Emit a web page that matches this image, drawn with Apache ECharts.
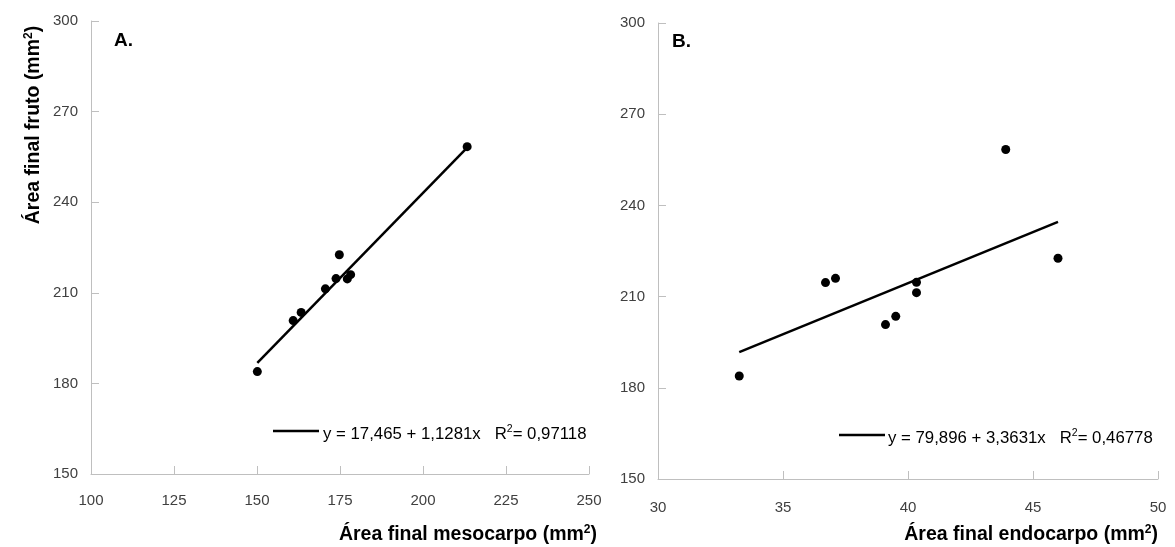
<!DOCTYPE html>
<html>
<head>
<meta charset="utf-8">
<script src="https://cdn.jsdelivr.net/npm/echarts@6/dist/echarts.min.js"></script>
<style>
  html, body { margin: 0; padding: 0; background: #fff; }
  #chart { width: 1175px; height: 547px; }
</style>
</head>
<body>
<div id="chart"></div>
<script>
// ---- Data ----
const frutoArea      = [183.9, 200.8, 203.5, 211.3, 214.7, 222.6, 214.6, 216.0, 258.4];
const mesocarpoArea  = [150.1, 160.9, 163.3, 170.6, 173.8, 174.8, 177.2, 178.2, 213.3];
const endocarpoArea  = [33.25, 39.10, 39.51, 40.34, 40.34, 46.0, 36.70, 37.10, 43.91];

// regression coefficients printed on the chart
const regA = { intercept: 17.465, slope: 1.1281, r2: '0,97118', text: 'y = 17,465 + 1,1281x   R' };
const regB = { intercept: 79.896, slope: 3.3631, r2: '0,46778', text: 'y = 79,896 + 3,3631x   R' };

// axis tick settings
const xTicksA = { min: 100, max: 250, interval: 25 };
const xTicksB = { min: 30, max: 50, interval: 5 };
const yTicks  = { min: 150, max: 300, interval: 30 };

const titles = {
  y: 'Área final fruto (mm',
  xA: 'Área final mesocarpo (mm',
  xB: 'Área final endocarpo (mm',
  panelA: 'A.',
  panelB: 'B.'
};

// ---- build ----
function pairs(xs, ys) { return xs.map((x, i) => [x, ys[i]]); }
function trend(xs, reg) {
  const lo = Math.min(...xs), hi = Math.max(...xs);
  return [[lo, reg.intercept + reg.slope * lo], [hi, reg.intercept + reg.slope * hi]];
}

const FONT = '"Liberation Sans", Arial, sans-serif';
const axisGray = '#bfbfbf';
const labelColor = '#404040';

function xAxis(idx, t, margin) {
  return {
    type: 'value', gridIndex: idx, min: t.min, max: t.max, interval: t.interval,
    axisLine: { show: true, lineStyle: { color: axisGray, width: 1 } },
    axisTick: { show: true, inside: true, length: 8, lineStyle: { color: axisGray } },
    axisLabel: { color: labelColor, fontFamily: FONT, fontSize: 15, margin: margin, showMinLabel: true, showMaxLabel: true },
    splitLine: { show: false }
  };
}
function yAxis(idx, t) {
  return {
    type: 'value', gridIndex: idx, min: t.min, max: t.max, interval: t.interval,
    axisLine: { show: true, lineStyle: { color: axisGray, width: 1 } },
    axisTick: { show: true, inside: true, length: 8, lineStyle: { color: axisGray } },
    axisLabel: { color: labelColor, fontFamily: FONT, fontSize: 15, margin: 13 },
    splitLine: { show: false }
  };
}

const TS = 19.5; // title font size
const supRich = {
  n: { fontFamily: FONT, fontSize: 16.8, color: '#000' },
  b: { fontFamily: FONT, fontSize: TS, fontWeight: 'bold', color: '#000' },
  s: { fontFamily: FONT, fontSize: 10.5, color: '#000', padding: [0, 0, 9, 0] },
  sb: { fontFamily: FONT, fontSize: 12, fontWeight: 'bold', color: '#000', padding: [0, 0, 10, 0] }
};

const option = {
  animation: false,
  backgroundColor: '#fff',
  grid: [
    { left: 91, right: 586, top: 21, bottom: 73 },
    { left: 658, right: 17, top: 23, bottom: 68 }
  ],
  xAxis: [xAxis(0, xTicksA, 19), xAxis(1, xTicksB, 21)],
  yAxis: [yAxis(0, yTicks), yAxis(1, yTicks)],
  series: [
    { type: 'line', xAxisIndex: 0, yAxisIndex: 0, data: trend(mesocarpoArea, regA),
      showSymbol: false, lineStyle: { color: '#000', width: 2.5 }, z: 2 },
    { type: 'scatter', xAxisIndex: 0, yAxisIndex: 0, data: pairs(mesocarpoArea, frutoArea),
      symbolSize: 9, itemStyle: { color: '#000', opacity: 1 }, z: 3 },
    { type: 'line', xAxisIndex: 1, yAxisIndex: 1, data: trend(endocarpoArea, regB),
      showSymbol: false, lineStyle: { color: '#000', width: 2.5 }, z: 2 },
    { type: 'scatter', xAxisIndex: 1, yAxisIndex: 1, data: pairs(endocarpoArea, frutoArea),
      symbolSize: 9, itemStyle: { color: '#000', opacity: 1 }, z: 3 }
  ],
  graphic: [
    { type: 'text', left: 114, top: 31, style: { text: titles.panelA, font: 'bold 19px ' + FONT, fill: '#000' } },
    { type: 'text', left: 672, top: 32, style: { text: titles.panelB, font: 'bold 19px ' + FONT, fill: '#000' } },
    // y-axis title (rotated)
    { type: 'text', x: 34, y: 125, rotation: Math.PI / 2,
      style: { text: '{b|' + titles.y + '}{sb|2}{b|)}', rich: supRich, align: 'center', verticalAlign: 'middle' } },
    // x-axis titles (right aligned)
    { type: 'text', x: 597, y: 535,
      style: { text: '{b|' + titles.xA + '}{sb|2}{b|)}', rich: supRich, align: 'right', verticalAlign: 'middle' } },
    { type: 'text', x: 1158, y: 535,
      style: { text: '{b|' + titles.xB + '}{sb|2}{b|)}', rich: supRich, align: 'right', verticalAlign: 'middle' } },
    // legend A
    { type: 'line', shape: { x1: 273, y1: 431, x2: 319, y2: 431 }, style: { stroke: '#000', lineWidth: 2.5 } },
    { type: 'text', x: 323, y: 434,
      style: { text: '{n|' + regA.text + '}{s|2}{n|= ' + regA.r2 + '}', rich: supRich, align: 'left', verticalAlign: 'middle' } },
    // legend B
    { type: 'line', shape: { x1: 839, y1: 435, x2: 885, y2: 435 }, style: { stroke: '#000', lineWidth: 2.5 } },
    { type: 'text', x: 888, y: 438,
      style: { text: '{n|' + regB.text + '}{s|2}{n|= ' + regB.r2 + '}', rich: supRich, align: 'left', verticalAlign: 'middle' } }
  ]
};

const chart = echarts.init(document.getElementById('chart'), null, { renderer: 'canvas' });
chart.setOption(option);
</script>
</body>
</html>
